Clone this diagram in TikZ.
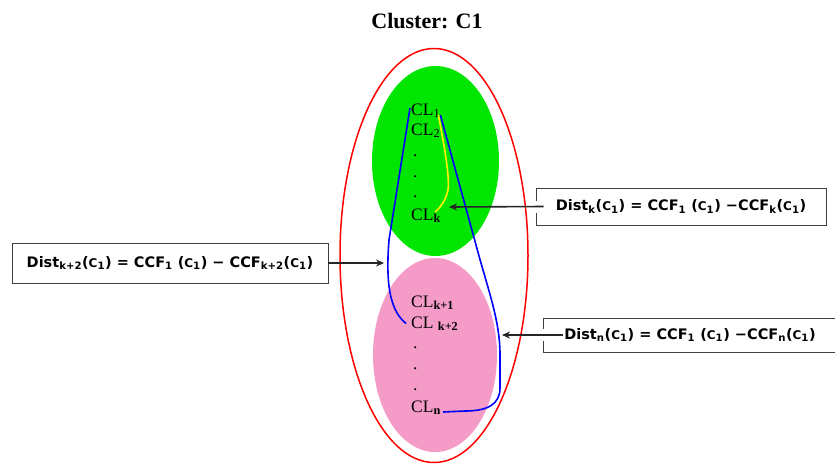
\documentclass[tikz,border=0pt]{standalone}
\usepackage{fontspec}
\setmainfont{Liberation Serif}
\newfontfamily\boxfont{DejaVu Sans}
\usetikzlibrary{arrows.meta,calc}
\definecolor{grn}{RGB}{0,230,0}
\definecolor{pnk}{RGB}{245,155,200}
\definecolor{yel}{RGB}{255,240,0}
\newcommand{\smC}{{\fontsize{12}{12}\selectfont C}}
\begin{document}
\begin{tikzpicture}[x=1pt,y=-1pt,
  cl/.style={anchor=base west, inner sep=0pt, font=\fontsize{17.5}{17.5}\selectfont},
  dist/.style={draw=black!75, line width=0.8pt, inner sep=0pt,
    font=\boxfont\bfseries\fontsize{14.5}{15}\selectfont},
  arr/.style={line width=1.6pt, draw=black!85, -{Stealth[length=8pt,width=7pt]}},
  crv/.style={line width=1.6pt}]
\useasboundingbox (0,0) rectangle (835,464);
\node[anchor=base, inner sep=0pt, font=\bfseries\fontsize{22}{22}\selectfont] (title) at (427,28) {Cluster: C1};

% ellipses
\draw[red, line width=1.5pt] (434,255.5) ellipse [x radius=94pt, y radius=207pt];
\fill[grn] (435.5,161) ellipse [x radius=63.5pt, y radius=95pt];
\fill[pnk] (435,355) ellipse [x radius=62pt, y radius=97pt];

% CL labels
\node[cl] (cl1) at (411,115) {CL\textsubscript{1}};
\node[cl] (cl2) at (411,135) {CL\textsubscript{2}};
\node[cl] (d1) at (413,156) {.};
\node[cl] (d2) at (413,177) {.};
\node[cl] (d3) at (413,197) {.};
\node[cl] (clk) at (411,220) {CL\textsubscript{\textbf{k}}};
\node[cl] (clk1) at (411,307) {CL\textsubscript{\textbf{k+1}}};
\node[cl] (clk2) at (411,328) {CL \textsubscript{\textbf{k+2}}};
\node[cl] (d4) at (413,348) {.};
\node[cl] (d5) at (413,369) {.};
\node[cl] (d6) at (413,390) {.};
\node[cl] (cln) at (411,412) {CL\textsubscript{\textbf{n}}};

% curves
\draw[blue, crv] ($(cl1.base west)+(-1,-7)$) -- (389,240)
  .. controls (385,290) and (392,312) .. ($(clk2.west)+(-5,0)$);
\draw[blue, crv] ($(cl1.base east)+(0,0)$) -- (476,245)
  .. controls (488,290) and (500,320) .. (500,355) -- (500,388)
  .. controls (500,404) and (488,411) .. (465,411) -- ($(cln.base east)+(2,0)$);
\draw[yel, crv] ($(cl1.base east)+(-2,0)$) .. controls (443,140) and (450,175) .. (448,190)
  .. controls (446,200) and (440,208) .. ($(clk.base east)+(-6,-8)$);

% boxes
\node[dist, minimum width=290pt, minimum height=37pt] (b1) at (681,206.5)
  {Dist\textsubscript{k}(\smC\textsubscript{1}) = CCF\textsubscript{1} (\smC\textsubscript{1}) −CCF\textsubscript{k}(\smC\textsubscript{1})};
\node[dist, minimum width=316pt, minimum height=40pt] (b2) at (170,263)
  {Dist\textsubscript{k+2}(\smC\textsubscript{1}) = CCF\textsubscript{1} (\smC\textsubscript{1}) −  CCF\textsubscript{k+2}(\smC\textsubscript{1})};
\node[dist, minimum width=294pt, minimum height=34pt] (b3) at (690,335)
  {Dist\textsubscript{n}(\smC\textsubscript{1}) = CCF\textsubscript{1} (\smC\textsubscript{1}) −CCF\textsubscript{n}(\smC\textsubscript{1})};

% arrow targets
\coordinate (t1) at (449,207);
\coordinate (t2) at (384,263);
\coordinate (t3) at (502,335);

\fill[white] ([xshift=-3pt,yshift=-6pt]b1.west) rectangle ([xshift=3pt,yshift=6pt]b1.west);
\fill[white] ([xshift=-3pt,yshift=-6pt]b3.west) rectangle ([xshift=3pt,yshift=6pt]b3.west);
\draw[arr] ([xshift=8pt]b1.west) -- (t1);
\draw[arr] (b2.east) -- (t2);
\draw[arr] ([xshift=20pt]b3.west) -- (t3);
\end{tikzpicture}
\end{document}
